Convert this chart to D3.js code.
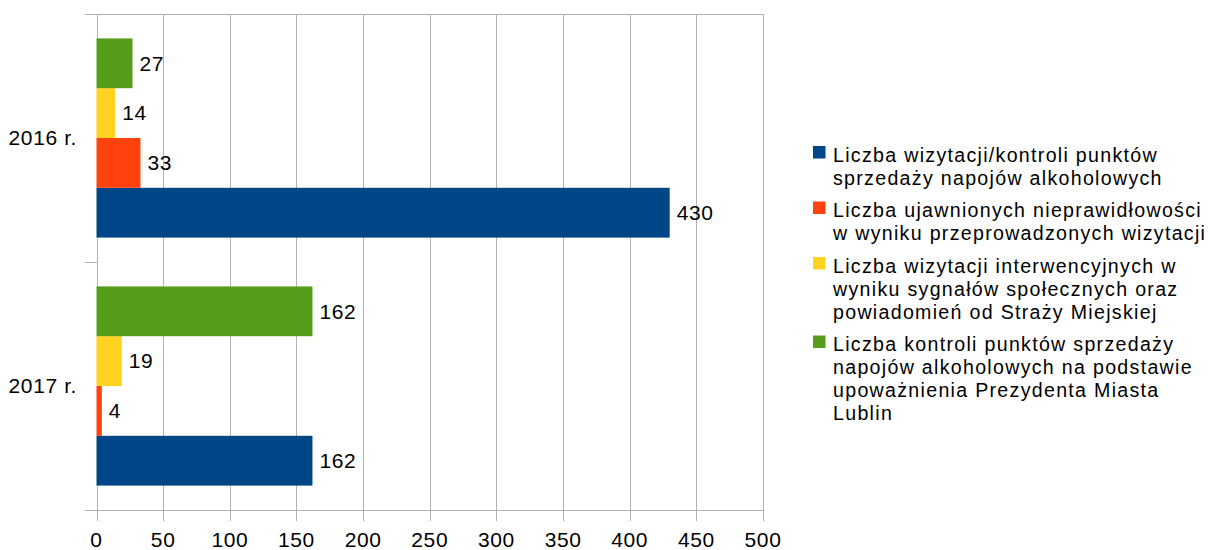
<!DOCTYPE html>
<html lang="pl">
<head>
<meta charset="UTF-8">
<title>Wizytacje punktów sprzedaży napojów alkoholowych</title>
<script src="https://d3js.org/d3.v7.min.js"></script>
<style>
    body { margin: 0; background: #fff; font-family: "Liberation Sans", Arial, sans-serif; }
    .grid { stroke: #b3b3b3; stroke-width: 1; shape-rendering: crispEdges; }
    .lbl { font-size: 21px; letter-spacing: 0.6px; fill: #000; }
    .leg { font-size: 19.6px; letter-spacing: 1.3px; fill: #000; }
</style>
</head>
<body>
<svg id="chart" width="1208" height="550"></svg>
<script>
// data
const years = ["2016 r.", "2017 r."];
const seriesNames = [
    "Liczba wizytacji/kontroli punktów sprzedaży napojów alkoholowych",
    "Liczba ujawnionych nieprawidłowości w wyniku przeprowadzonych wizytacji",
    "Liczba wizytacji interwencyjnych w wyniku sygnałów społecznych oraz powiadomień od Straży Miejskiej",
    "Liczba kontroli punktów sprzedaży napojów alkoholowych na podstawie upoważnienia Prezydenta Miasta Lublin"
];
// legend lines as wrapped in the original
const legendLines = [
    ["Liczba wizytacji/kontroli punktów", "sprzedaży napojów alkoholowych"],
    ["Liczba ujawnionych nieprawidłowości", "w wyniku przeprowadzonych wizytacji"],
    ["Liczba wizytacji interwencyjnych w", "wyniku sygnałów społecznych oraz", "powiadomień od Straży Miejskiej"],
    ["Liczba kontroli punktów sprzedaży", "napojów alkoholowych na podstawie", "upoważnienia Prezydenta Miasta", "Lublin"]
];
const seriesColors = ["#004586", "#ff420e", "#ffd320", "#579d1c"];
const visits = [430, 162];
const irregularities = [33, 4];
const interventions = [14, 19];
const controls = [27, 162];
const xTicks = [0, 50, 100, 150, 200, 250, 300, 350, 400, 450, 500];

const allValues = [visits, irregularities, interventions, controls];

const svg = d3.select("#chart");

const x = d3.scaleLinear().domain([0, 500]).range([96.5, 763]);
const y = d3.scaleBand().domain(years).range([14, 510]);
// series stacked top-to-bottom in reverse order (last series on top)
const yInner = d3.scaleBand()
    .domain(d3.range(seriesNames.length).reverse())
    .range([0, y.bandwidth()])
    .paddingInner(0)
    .paddingOuter(0.49);

// vertical gridlines
svg.append("g").selectAll("line")
    .data(xTicks)
    .join("line")
    .attr("class", "grid")
    .attr("x1", d => Math.round(x(d)) + 0.5)
    .attr("x2", d => Math.round(x(d)) + 0.5)
    .attr("y1", 14)
    .attr("y2", 521);

// top and bottom lines + category ticks
[14, 510].forEach(v => {
    svg.append("line").attr("class", "grid")
        .attr("x1", 85).attr("x2", x(500)).attr("y1", v + 0.5).attr("y2", v + 0.5);
});
svg.append("line").attr("class", "grid")
    .attr("x1", 85).attr("x2", x(0)).attr("y1", y.range()[0] + y.bandwidth() + 0.5)
    .attr("y2", y.range()[0] + y.bandwidth() + 0.5);

// x tick labels
svg.append("g").selectAll("text")
    .data(xTicks)
    .join("text")
    .attr("class", "lbl")
    .attr("x", d => x(d))
    .attr("y", 547)
    .attr("text-anchor", "middle")
    .text(d => d);

// category labels
svg.append("g").selectAll("text")
    .data(years)
    .join("text")
    .attr("class", "lbl")
    .attr("x", 77)
    .attr("y", d => y(d) + y.bandwidth() / 2)
    .attr("dy", "0.35em")
    .attr("text-anchor", "end")
    .text(d => d);

// bars
allValues.forEach((vals, si) => {
    const g = svg.append("g");
    g.selectAll("rect")
        .data(vals)
        .join("rect")
        .attr("x", x(0))
        .attr("y", (d, i) => y(years[i]) + yInner(si))
        .attr("width", d => x(d) - x(0))
        .attr("height", yInner.bandwidth())
        .attr("fill", seriesColors[si]);
    g.selectAll("text")
        .data(vals)
        .join("text")
        .attr("class", "lbl")
        .attr("x", d => x(d) + 7)
        .attr("y", (d, i) => y(years[i]) + yInner(si) + yInner.bandwidth() / 2)
        .attr("dy", "0.35em")
        .text(d => d);
});

// legend
const legend = svg.append("g");
let ly = 155;
legendLines.forEach((lines, si) => {
    legend.append("rect")
        .attr("x", 813)
        .attr("y", ly - 9)
        .attr("width", 12.5)
        .attr("height", 12.5)
        .attr("fill", seriesColors[si]);
    lines.forEach((t, li) => {
        legend.append("text")
            .attr("class", "leg")
            .attr("x", 833)
            .attr("y", ly + li * 23)
            .attr("dy", "0.35em")
            .text(t);
    });
    ly += lines.length * 23 + 9.5;
});
</script>
</body>
</html>
